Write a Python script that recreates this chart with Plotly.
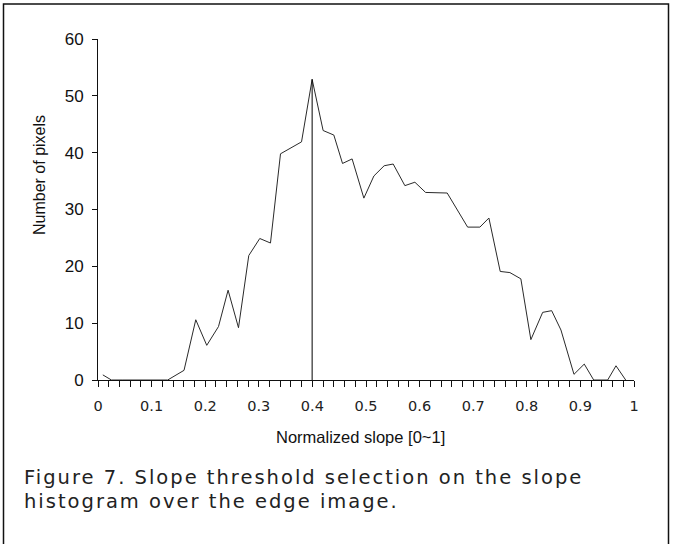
import plotly.graph_objects as go

# Histogram of normalized slope
slope = [0.009, 0.025, 0.045, 0.065, 0.085, 0.105, 0.130, 0.1605, 0.1824, 0.2029,
         0.2248, 0.2427, 0.2621, 0.2813, 0.3018, 0.3218, 0.3405, 0.3797, 0.3995, 0.4200,
         0.4400, 0.4562, 0.4741, 0.4960, 0.5147, 0.5339, 0.5507, 0.5725, 0.5912, 0.6112,
         0.6515, 0.6896, 0.7125, 0.7293, 0.7504, 0.7685, 0.7889, 0.8076, 0.8296, 0.8464,
         0.8637, 0.8880, 0.9072, 0.9248, 0.9509, 0.9664, 0.9845]
pixels = [0.9, 0, 0, 0, 0, 0, 0, 1.7, 10.6, 6.1,
          9.4, 15.8, 9.2, 21.9, 24.9, 24.1, 39.8, 41.9, 52.9, 43.9,
          43.1, 38.1, 38.9, 32.0, 35.9, 37.7, 38.0, 34.2, 34.8, 33.0,
          32.9, 26.9, 26.9, 28.5, 19.1, 18.9, 17.8, 7.1, 11.9, 12.2,
          8.8, 1.0, 2.8, 0, 0, 2.5, 0]
threshold = 0.3995
y_ticks = [0, 10, 20, 30, 40, 50, 60]

W, H = 676, 544
ML, MR, MT, MB = 98, 42, 39, 164
PW, PH = W - ML - MR, H - MT - MB

def px_x(p):
    return (p - ML) / PW

def px_y(p):
    return (H - MB - p) / PH

fig = go.Figure()
fig.add_trace(go.Scatter(x=slope, y=pixels, mode="lines",
                         line=dict(color="#2a2a2a", width=1), showlegend=False,
                         hoverinfo="skip"))
peak = max(pixels)
fig.add_trace(go.Scatter(x=[threshold, threshold], y=[0, peak], mode="lines",
                         line=dict(color="#000000", width=1), showlegend=False,
                         hoverinfo="skip"))

fig.update_layout(
    width=W, height=H,
    margin=dict(l=ML, r=MR, t=MT, b=MB, pad=0),
    paper_bgcolor="white", plot_bgcolor="white",
    font=dict(family="Liberation Sans, Arial, sans-serif", color="#111111"),
    xaxis=dict(range=[0, 1], dtick=0.1, tick0=0, showgrid=False, zeroline=False,
               showline=True, linecolor="#111111", linewidth=1,
               ticks="outside", ticklen=6, tickcolor="#111111", tickwidth=1,
               tickfont=dict(family="DejaVu Sans", size=14.5, color="#222222"),
               ticklabelstandoff=7,
               minor=dict(dtick=0.02, tick0=0, ticks="outside", ticklen=6,
                          tickcolor="#111111", tickwidth=1, showgrid=False)),
    yaxis=dict(range=[0, 60], tickvals=y_ticks, showgrid=False, zeroline=False,
               showline=True, linecolor="#111111", linewidth=1,
               ticks="outside", ticklen=5, tickcolor="#111111", tickwidth=1,
               tickfont=dict(size=17), ticklabelstandoff=5),
)

# outer frame
fig.add_shape(type="rect", xref="paper", yref="paper",
              x0=px_x(3.5), x1=px_x(668.5), y0=px_y(547), y1=px_y(4),
              line=dict(color="#111111", width=1.5), fillcolor="rgba(0,0,0,0)",
              layer="above")

# axis titles
fig.add_annotation(xref="paper", yref="paper", x=px_x(360), y=px_y(437),
                   text="Normalized slope [0~1]", showarrow=False,
                   xanchor="center", yanchor="middle", font=dict(size=16.5))
fig.add_annotation(xref="paper", yref="paper", x=px_x(39), y=px_y(175),
                   text="Number of pixels", showarrow=False, textangle=-90,
                   xanchor="center", yanchor="middle", font=dict(size=16))

# caption
cap_font = dict(family="DejaVu Sans", size=19.5, color="#222222")
fig.add_annotation(xref="paper", yref="paper", x=px_x(22), y=px_y(477),
                   text='<span style="letter-spacing:2px">Figure 7. Slope threshold selection on the slope</span>',
                   showarrow=False, xanchor="left", yanchor="middle", font=cap_font)
fig.add_annotation(xref="paper", yref="paper", x=px_x(22), y=px_y(501),
                   text='<span style="letter-spacing:2px">histogram over the edge image.</span>',
                   showarrow=False, xanchor="left", yanchor="middle", font=cap_font)

fig.write_html("out.html")
